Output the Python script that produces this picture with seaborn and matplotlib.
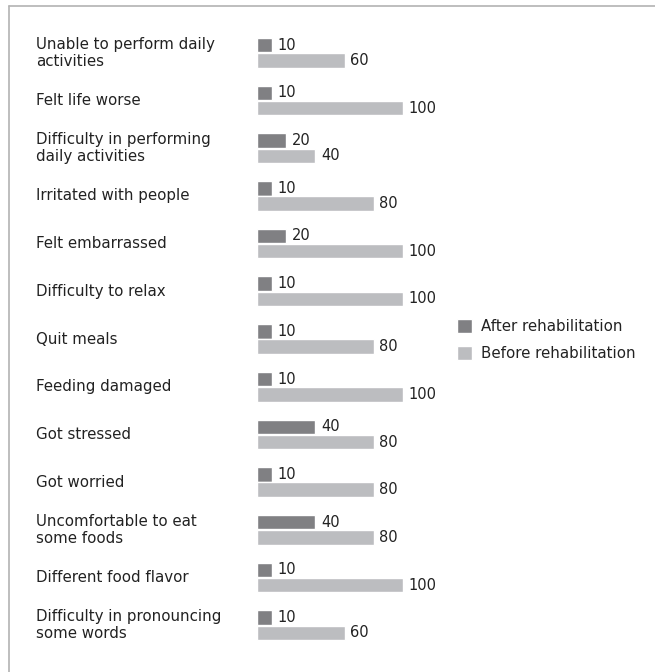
import seaborn as sns
from matplotlib import pyplot as plt
from matplotlib.lines import Line2D
from matplotlib.patches import Patch
import pandas as pd

categories = [
    "Unable to perform daily\nactivities",
    "Felt life worse",
    "Difficulty in performing\ndaily activities",
    "Irritated with people",
    "Felt embarrassed",
    "Difficulty to relax",
    "Quit meals",
    "Feeding damaged",
    "Got stressed",
    "Got worried",
    "Uncomfortable to eat\nsome foods",
    "Different food flavor",
    "Difficulty in pronouncing\nsome words",
]
after = [10, 10, 20, 10, 20, 10, 10, 10, 40, 10, 40, 10, 10]
before = [60, 100, 40, 80, 100, 100, 80, 100, 80, 80, 80, 100, 60]
series = ["After rehabilitation", "Before rehabilitation"]
colors = ["#808083", "#bcbdc0"]

df = pd.DataFrame({
    "category": categories * 2,
    "value": after + before,
    "series": [series[0]] * len(categories) + [series[1]] * len(categories),
})

sns.set_style("white")
plt.rcParams["font.family"] = ["DejaVu Sans"]

fig = plt.figure(figsize=(6.55, 6.72), dpi=100)
ax = fig.add_axes([257 / 655, 1 - 649 / 672, 146 / 655, 620 / 672])

sns.barplot(data=df, x="value", y="category", hue="series", order=categories,
            hue_order=series, palette=colors, width=0.64, gap=0.05,
            orient="h", ax=ax, legend=False, saturation=1)

for c in ax.containers:
    ax.bar_label(c, fmt="%d", padding=4, fontsize=10.5, color="#222222")

ax.set_xlim(0, 100)
ax.set_ylim(12.5, -0.5)
ax.set_xticks([])
ax.set_yticks([])
ax.set_xlabel("")
ax.set_ylabel("")
sns.despine(ax=ax, left=True, bottom=True)

for i, cat in enumerate(categories):
    ax.text(-221 / 146 * 100, i, cat, ha="left", va="center",
            fontsize=10.8, color="#222222", linespacing=1.18,
            transform=ax.transData, clip_on=False)

handles = [Patch(facecolor=colors[0]), Patch(facecolor=colors[1])]
fig.legend(handles, series, loc="center left", bbox_to_anchor=(443 / 655, 1 - 340 / 672),
           frameon=False, fontsize=10.8, handlelength=1.05, handleheight=1.05,
           handletextpad=0.6, labelspacing=0.75, labelcolor="#222222")

# frame lines around the figure (top and left only)
fig.add_artist(Line2D([9 / 655, 1], [1 - 5.5 / 672, 1 - 5.5 / 672],
                      color="#b3b3b3", lw=1.2, transform=fig.transFigure))
fig.add_artist(Line2D([9 / 655, 9 / 655], [0, 1 - 5.5 / 672],
                      color="#b3b3b3", lw=1.2, transform=fig.transFigure))

fig.savefig("out.png", dpi=100)
